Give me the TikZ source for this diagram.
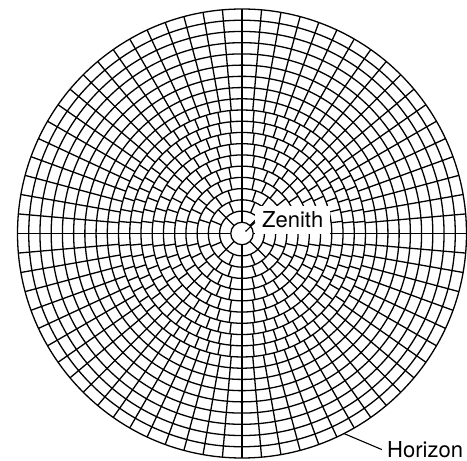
\documentclass[tikz,border=0pt]{standalone}
\usepackage{fontspec}
\setmainfont{TeX Gyre Heros}
\begin{document}
\begin{tikzpicture}[x=1pt,y=1pt,
  gridline/.style={line width=1.3pt, black},
  leader/.style={line width=1.1pt, black},
  lbl/.style={font=\fontsize{22}{26}\selectfont, text=black}]
\useasboundingbox (0,0) rectangle (467,461);
\coordinate (c) at (242,227.5);
\begin{scope}[shift={(c)}]
  \foreach \k in {1,...,20}
    \draw[gridline] (0,0) circle ({\k*11.225pt});
  \foreach \k in {2,...,20}{
    \pgfmathtruncatemacro{\nq}{min(18, round(pi/2*(\k-0.5)*11.225/11.5))}
    \pgfmathtruncatemacro{\nt}{4*\nq}
    \pgfmathsetmacro{\da}{360/\nt}
    \pgfmathsetmacro{\ri}{(\k-1)*11.225}
    \pgfmathsetmacro{\ro}{\k*11.225}
    \foreach \j in {1,...,\nt}
      \draw[gridline] ({\j*\da}:\ri pt) -- ({\j*\da}:\ro pt);
  }
  \coordinate (zc) at (3.5,2);
  \coordinate (hc) at (-63:224.5pt);
\end{scope}
\node[lbl, fill=white, inner xsep=7pt, inner ysep=4pt, text height=17pt, text depth=3pt, anchor=base west] (zen) at (255,233.7) {Zenith};
\draw[leader] (zc) -- ([yshift=-2pt]zen.west);
\node[lbl, inner sep=2pt, anchor=base west] (hor) at (385,3.5) {Horizon};
\draw[leader] (hc) -- ([xshift=-3pt]hor.west);
\end{tikzpicture}
\end{document}
